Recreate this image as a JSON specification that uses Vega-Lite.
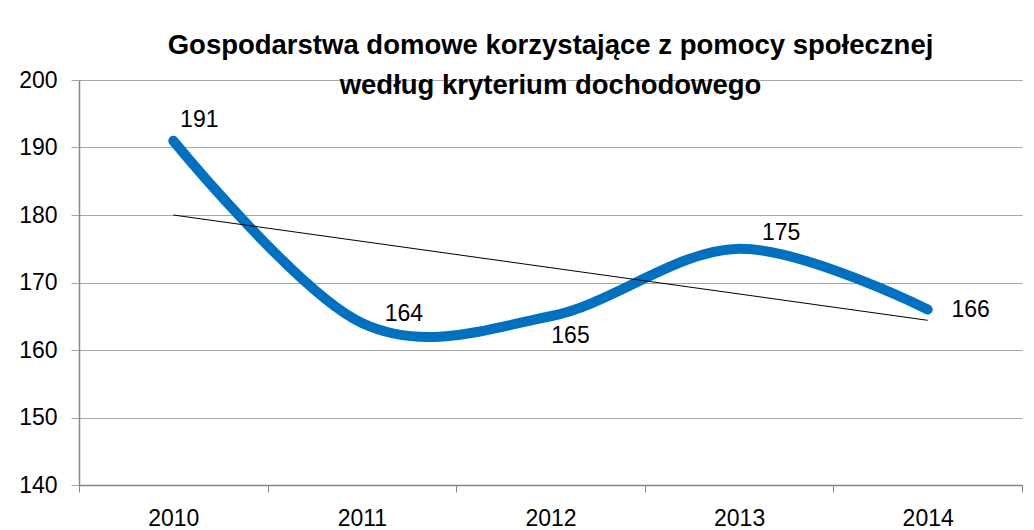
{
  "$schema": "https://vega.github.io/schema/vega-lite/v6.json",
  "width": 943,
  "height": 405,
  "autosize": {"type": "none"},
  "padding": {"left": 79, "top": 80, "right": 12, "bottom": 45},
  "background": "white",
  "config": {
    "font": "Liberation Sans",
    "view": {"stroke": null}
  },
  "title": {
    "text": ["Gospodarstwa domowe korzystające z pomocy społecznej", "według kryterium dochodowego"],
    "fontSize": 27.5,
    "fontWeight": "bold",
    "font": "Liberation Sans",
    "color": "#000000",
    "lineHeight": 40,
    "anchor": "middle",
    "frame": "group",
    "baseline": "bottom",
    "offset": -58
  },
  "data": {
    "values": [
      {"year": 2010, "value": 191},
      {"year": 2011, "value": 164},
      {"year": 2012, "value": 165},
      {"year": 2013, "value": 175},
      {"year": 2014, "value": 166}
    ]
  },
  "encoding": {
    "x": {
      "field": "year",
      "type": "ordinal",
      "scale": {"type": "band", "paddingInner": 0, "paddingOuter": 0},
      "axis": {
        "title": null,
        "labelAngle": 0,
        "tickBand": "extent",
        "tickSize": 7,
        "tickColor": "#868686",
        "domainColor": "#868686",
        "domainWidth": 1.5,
        "labelFontSize": 23,
        "labelColor": "#000000",
        "labelPadding": 15,
        "grid": false
      }
    },
    "y": {
      "field": "value",
      "type": "quantitative",
      "scale": {"domain": [140, 200], "nice": false, "zero": false},
      "axis": {
        "title": null,
        "values": [140, 150, 160, 170, 180, 190, 200],
        "grid": true,
        "gridColor": "#a6a6a6",
        "gridWidth": 1.2,
        "tickSize": 8,
        "tickColor": "#a6a6a6",
        "domainColor": "#868686",
        "domainWidth": 1.5,
        "labelFontSize": 23,
        "labelColor": "#000000",
        "labelPadding": 14
      }
    }
  },
  "layer": [
    {
      "mark": {"type": "line", "interpolate": "cardinal", "tension": 0, "color": "#0070C0", "strokeWidth": 10, "strokeCap": "round", "strokeJoin": "round"}
    },
    {
      "transform": [{"regression": "value", "on": "year"}],
      "mark": {"type": "line", "color": "#000000", "strokeWidth": 1}
    },
    {
      "transform": [{"filter": "datum.year == 2010"}],
      "mark": {"type": "text", "fontSize": 23, "color": "#000000", "dx": 26, "dy": -21, "align": "center", "baseline": "middle"},
      "encoding": {"text": {"field": "value"}}
    },
    {
      "transform": [{"filter": "datum.year == 2011"}],
      "mark": {"type": "text", "fontSize": 23, "color": "#000000", "dx": 42, "dy": -9, "align": "center", "baseline": "middle"},
      "encoding": {"text": {"field": "value"}}
    },
    {
      "transform": [{"filter": "datum.year == 2012"}],
      "mark": {"type": "text", "fontSize": 23, "color": "#000000", "dx": 20, "dy": 20, "align": "center", "baseline": "middle"},
      "encoding": {"text": {"field": "value"}}
    },
    {
      "transform": [{"filter": "datum.year == 2013"}],
      "mark": {"type": "text", "fontSize": 23, "color": "#000000", "dx": 42, "dy": -16, "align": "center", "baseline": "middle"},
      "encoding": {"text": {"field": "value"}}
    },
    {
      "transform": [{"filter": "datum.year == 2014"}],
      "mark": {"type": "text", "fontSize": 23, "color": "#000000", "dx": 43, "dy": 0, "align": "center", "baseline": "middle"},
      "encoding": {"text": {"field": "value"}}
    }
  ]
}
